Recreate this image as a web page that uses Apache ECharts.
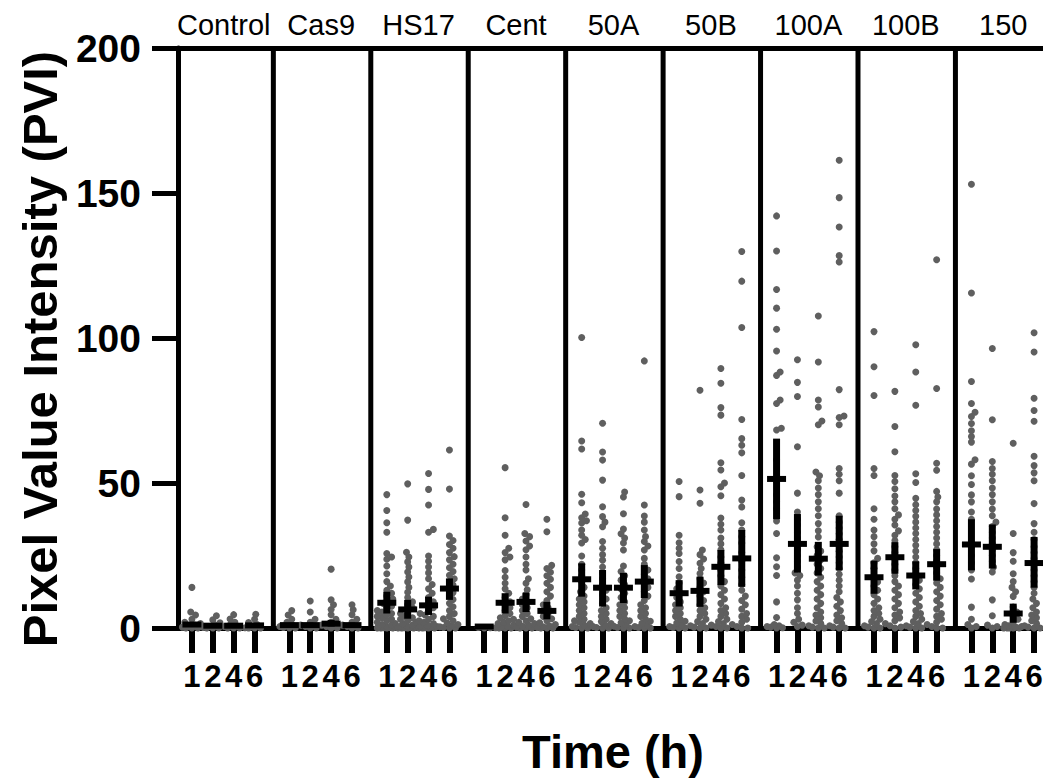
<!DOCTYPE html>
<html><head><meta charset="utf-8">
<script src="https://cdn.jsdelivr.net/npm/echarts@6/dist/echarts.min.js"></script>
<style>html,body{margin:0;padding:0;background:#fff}#c{width:1043px;height:779px}</style>
</head><body><div id="c"></div>
<script>
// ---------------- DATA ----------------
const panels = ['Control','Cas9','HS17','Cent','50A','50B','100A','100B','150'];
const times = ['1','2','4','6'];
const yTicks = [0, 50, 100, 150, 200];

// individual points per panel, one list per time point (1, 2, 4, 6 h)
const control = [
  [14, 5.5, 4.5, 3, 2, 1.5, 1, 0.6, 0.3, 0, 0, 0],
  [4.2, 2.8, 1.8, 1, 0.5, 0.2, 0, 0, 0],
  [4.6, 3.1, 2, 1.1, 0.5, 0, 0, 0],
  [4.7, 3, 1.9, 1.2, 0.4, 0.1, 0, 0, 0]
];
const cas9 = [
  [6, 4.5, 3, 2, 1.2, 0.5, 0.2, 0, 0],
  [9.3, 5.5, 3, 2, 1, 0.5, 0, 0],
  [20.3, 9.7, 8, 6.4, 4.6, 3, 2, 1, 0.5, 0, 0],
  [8, 6.3, 4.6, 3, 2, 1, 0.5, 0, 0]
];
const hs17 = [
  [46, 40.5, 36.3, 33, 25.7, 24.5, 23.7, 21.4, 18.7, 16, 14.5, 13, 12, 11, 10, 9, 8.5, 7.5, 7, 6, 5.5, 5, 4.5, 4, 3.5, 3, 2.5, 2, 1.5, 1.2, 1, 0.8, 0.5, 0.3, 0.2, 0.1, 0, 0, 0, 0],
  [49.7, 37.2, 26.1, 24.5, 22.8, 21, 19.3, 17.6, 15.9, 14, 12.3, 10.5, 9, 8, 7, 6, 5, 4, 3.5, 3, 2.5, 2, 1.5, 1, 0.8, 0.5, 0.3, 0.2, 0.1, 0, 0, 0, 0],
  [53.3, 47.8, 42.4, 34, 33, 24.8, 23, 21, 19, 17, 15, 13.5, 12, 10.5, 9, 8, 7, 6, 5, 4.5, 4, 3, 2.5, 2, 1.5, 1, 0.7, 0.5, 0.3, 0.1, 0, 0, 0, 0],
  [61.4, 47.9, 31.7, 30.2, 28.8, 27.5, 26, 24.6, 23.5, 22, 20.8, 19.5, 18.2, 17, 16, 14.8, 13.5, 12.2, 11, 9.8, 8.5, 7.3, 6, 5, 4, 3.2, 2.5, 1.8, 1.2, 0.8, 0.4, 0.2, 0, 0]
];
const cent = [
  [0.2, 0.1, 0],
  [55.3, 38, 32, 27.5, 26, 24.5, 23.5, 19.8, 17.5, 15.4, 13.5, 12, 10.5, 9, 8, 7, 6, 5, 4.2, 3.5, 3, 2.5, 2, 1.5, 1, 0.6, 0.3, 0.1, 0, 0, 0],
  [42.6, 32.6, 31.5, 30, 28.3, 27, 24.5, 22, 20, 17, 15.4, 13.2, 11.5, 10, 9, 8, 7, 6, 5, 4, 3.2, 2.5, 2, 1.5, 1, 0.6, 0.3, 0, 0, 0],
  [37.5, 33.2, 21.6, 20.5, 19.2, 18, 16.8, 15.4, 14, 12.5, 11, 9.5, 8, 7, 6, 5, 4, 3.2, 2.5, 1.8, 1.2, 0.8, 0.4, 0.2, 0, 0, 0]
];
const g50A = [
  [100.2, 64.5, 61.7, 46.1, 43.2, 39.3, 38, 37, 36.2, 33.8, 32, 30.5, 29.3, 24.8, 22, 20, 18, 16, 14, 12.5, 11, 10, 9, 8, 7, 6, 5, 4, 3, 2.5, 2, 1.5, 1, 0.5, 0.2, 0, 0],
  [70.6, 60.7, 57.9, 51, 41.8, 38.4, 36.5, 34.9, 29.8, 27.5, 25.3, 23.4, 21, 19, 17, 15, 13, 11.5, 10, 8.5, 7, 6, 5, 4, 3, 2.2, 1.5, 1, 0.5, 0.2, 0, 0],
  [46.9, 45.2, 39.4, 34.1, 32.5, 31, 29.3, 26.9, 21.4, 19.5, 18, 16.5, 15, 13.5, 12, 10.5, 9, 8, 7, 6, 5, 4, 3.2, 2.5, 1.8, 1.2, 0.6, 0.2, 0, 0],
  [92.1, 42.4, 38.6, 36.5, 33.8, 31.5, 29.8, 28.3, 26.9, 24, 22, 20, 18.5, 17, 15.5, 14, 12.5, 11, 9.5, 8, 7, 6, 5, 4, 3, 2.3, 1.6, 1, 0.5, 0.2, 0, 0]
];
const g50B = [
  [50.5, 45.3, 32, 29.4, 27.5, 25.7, 22.9, 20.5, 17.7, 15.5, 13.5, 12, 10.5, 9, 8, 7, 6, 5, 4, 3, 2.3, 1.7, 1, 0.5, 0.2, 0, 0],
  [82, 47.6, 43, 26.9, 25.3, 23.8, 22.3, 20.5, 18.8, 17, 15.5, 14, 12.5, 11, 9.5, 8, 7, 6, 5, 4, 3, 2.2, 1.5, 0.8, 0.3, 0, 0],
  [89.5, 84.4, 76, 73.4, 57, 54.5, 50, 48.7, 45.6, 37.9, 35.8, 33.8, 31, 29, 27, 24.5, 22.4, 20, 18, 16, 14.5, 13, 11.5, 10, 8.5, 7, 6, 5, 4, 3, 2.2, 1.5, 1, 0.5, 0, 0],
  [129.8, 119.6, 103.6, 71.9, 65.3, 63, 60.4, 52.6, 44.1, 41.7, 36.3, 33.8, 31.5, 29.3, 26, 23, 20, 17.5, 15, 13, 11, 9.5, 8, 6.5, 5, 4, 3, 2, 1.2, 0.5, 0, 0]
];
const g100A = [
  [142.1, 130, 116.7, 110.3, 103, 95.5, 88.3, 87.1, 78.6, 77.4, 68.9, 68.3, 58, 50.8, 45.9, 43.5, 41.1, 36.9, 32.6, 24.2, 21.1, 18.1, 9, 3.6, 1.2, 0.8, 0.5, 0.3, 0.1, 0],
  [92.5, 84.7, 79.8, 62.5, 46.5, 40, 37.5, 35.5, 33, 31, 29, 27, 25, 23, 21, 19, 18.1, 16.5, 14.5, 12, 9.7, 7, 5, 3, 2, 1, 0.5],
  [107.6, 91.7, 78.6, 76.2, 71.4, 70.1, 53.8, 52.5, 50.8, 48.3, 46, 43.5, 41.1, 38.7, 36, 33.5, 31.4, 28, 26.5, 25, 23.5, 22, 20.5, 19, 17.5, 16, 14.5, 13, 11.5, 10, 8.5, 7, 5.5, 4.5, 3.5, 2.4, 1.5, 0.8, 0.3, 0, 0],
  [161.3, 148.4, 138.3, 128.4, 126.2, 82.2, 73.1, 72.6, 70.1, 55, 53, 50.8, 46.5, 38.7, 36.5, 34.5, 32.5, 30.5, 28.5, 26.5, 24.5, 22.5, 20.5, 18.5, 16.5, 14.5, 12.5, 10.5, 9, 7.5, 6, 4.5, 3.5, 2.5, 1.5, 0.8, 0.3, 0, 0]
];
const g100B = [
  [102.2, 90.1, 80.2, 55, 52.6, 41.1, 37.5, 33.8, 31.5, 29, 26.6, 24, 22.5, 20.6, 17.5, 15.9, 14.5, 13, 11.5, 10, 8.5, 7, 6, 5, 4, 3, 2.2, 1.5, 0.8, 0.3, 0, 0],
  [81.6, 69.5, 60.8, 52.6, 50.5, 48, 45.5, 43.5, 41.1, 39, 37.5, 35.5, 33.5, 32, 30.2, 28, 26, 24, 22, 20, 18, 16, 14.5, 13, 11.5, 10, 8.5, 7, 5.5, 4.5, 3.5, 2.5, 1.5, 0.8, 0.3, 0],
  [97.7, 88.3, 76.8, 53.2, 50.2, 44.7, 42.5, 40.5, 38.5, 36.5, 34.5, 32.6, 30.5, 28.5, 26.5, 24.5, 22.5, 20.5, 18.5, 16.5, 15, 13.5, 12, 10.5, 9, 7.5, 6, 5, 4, 3, 2.2, 1.5, 0.8, 0.3, 0, 0],
  [127, 82.6, 56.8, 54.4, 47.1, 45.2, 43.5, 41, 39, 37, 35, 33, 31, 29, 27, 25, 23, 21, 19, 17, 15.5, 14, 12.5, 11, 9.5, 8, 6.5, 5, 4, 3, 2, 1.2, 0.5, 0, 0]
];
const g150 = [
  [153, 115.5, 85, 77.4, 74.4, 72.9, 70.5, 68, 66, 64.1, 58, 56.5, 52.5, 49.5, 45.9, 43.5, 40, 37.5, 28, 25, 22.5, 20, 16.9, 7.2, 3, 1.2, 0.5, 0],
  [96.4, 71.8, 57.4, 55, 53, 50.8, 48.3, 46, 43.5, 41, 38.7, 36.5, 35, 33, 31, 29, 27, 25, 23, 21, 19.3, 9.7, 4.2, 1, 0.5, 0],
  [63.7, 32.6, 26, 23, 18.7, 16, 14, 12.5, 10.9, 7.2, 5.5, 4, 3, 2, 1.2, 0.8, 0.5, 0.3, 0, 0, 0, 0, 0],
  [101.8, 95.2, 79.2, 75, 71.3, 59.2, 56, 53.5, 50.8, 42.9, 36, 33, 30.5, 28, 26, 24, 22, 20, 18, 16, 14, 12, 10, 8.5, 7, 5.5, 4.5, 3.5, 2.5, 1.5, 0.8, 0.3, 0, 0]
];
const panelPoints = [control, cas9, hs17, cent, g50A, g50B, g100A, g100B, g150];

// mean and error-bar ends per panel (1, 2, 4, 6 h)
const means = [
  [1.2, 0.8, 0.8, 0.9], [1, 1, 1.5, 1], [8.7, 6.4, 7.8, 13.6], [0.5, 8.7, 9, 5.9],
  [16.8, 13.9, 13.9, 16], [12, 12.8, 21.1, 24], [51.4, 29, 23.9, 29],
  [17.5, 24.4, 18.1, 22], [28.8, 28, 5, 22.4]
];
const errLow = [
  [0.4, 0.3, 0.3, 0.3], [0.4, 0.3, 0.5, 0.3], [5, 3.2, 4.5, 9.7], [0.3, 5, 5.5, 3],
  [10.8, 7.4, 8.6, 10.3], [7.4, 7.3, 14.8, 14.2], [37.5, 19.1, 18.1, 19.9],
  [11.8, 18.7, 13.3, 16.3], [19.9, 20.5, 1.8, 13.9]
];
const errHigh = [
  [2, 1.3, 1.3, 1.5], [1.6, 1.8, 2.8, 1.8], [12.5, 9.7, 10.8, 17.1], [0.7, 12, 12.2, 9],
  [22.3, 20, 19, 21.7], [16.5, 17.7, 26.9, 33.8], [65.3, 39.3, 29.7, 38.7],
  [23.2, 29.6, 23, 27.2], [37.5, 35.7, 8.4, 31.4]
];

// ---------------- LAYOUT ----------------
const FONT = '"Liberation Sans", Arial, Helvetica, sans-serif';
const GRID = {left: 178, top: 48, width: 870, height: 580};
const SLOTS = 125;                // x-axis slot count (value 0..125)
const PANEL_SLOTS = 14;           // slots per panel
const COL0 = 2, COL_STEP = 3;     // column positions within panel
const SEP_SHIFT = -0.3;
const pxPerSlot = GRID.width / SLOTS;
const pxPerUnit = GRID.height / 200;

const colSlot = (g, j) => g * PANEL_SLOTS + COL0 + j * COL_STEP;

// category labels for the bottom (time) and top (panel) axes
const slotNames = [], timeLabels = [], titleLabels = [];
for (let i = 0; i <= SLOTS; i++) { slotNames.push('s' + i); timeLabels.push(''); titleLabels.push(''); }
panels.forEach((p, g) => {
  times.forEach((t, j) => { timeLabels[colSlot(g, j)] = t; });
  titleLabels[g * PANEL_SLOTS + 7] = p;
});

// simple beeswarm (computed layout, pixels -> slot units)
function swarm(vals) {
  const D = 5, MAXX = 9.5, STEP = 1.2;
  const placed = [], out = [];
  const sorted = vals.slice().sort((a, b) => a - b);
  sorted.forEach(v => {
    const y = v * pxPerUnit;
    const near = placed.filter(p => Math.abs(p.y - y) < D);
    let best = null;
    for (let k = 0; k * STEP <= MAXX && best === null; k++) {
      const cands = k === 0 ? [0] : [k * STEP, -k * STEP];
      for (const x of cands) {
        if (near.every(p => (p.x - x) ** 2 + (p.y - y) ** 2 >= D * D)) { best = x; break; }
      }
    }
    if (best === null) {
      let bestScore = -1;
      for (let x = -MAXX; x <= MAXX + 1e-6; x += STEP) {
        let m = Infinity;
        near.forEach(p => { m = Math.min(m, (p.x - x) ** 2 + (p.y - y) ** 2); });
        if (m > bestScore) { bestScore = m; best = x; }
      }
    }
    placed.push({x: best, y});
    out.push([best / pxPerSlot, v]);
  });
  return out;
}

const scatterData = [], meanData = [], sepData = [];
panelPoints.forEach((cols, g) => {
  cols.forEach((vals, j) => {
    const cx = colSlot(g, j);
    swarm(vals).forEach(([dx, v]) => scatterData.push([cx + dx, v]));
    meanData.push([cx, means[g][j], errLow[g][j], errHigh[g][j]]);
  });
  if (g > 0) sepData.push([g * PANEL_SLOTS + SEP_SHIFT, 0, 200]);
});

const chart = echarts.init(document.getElementById('c'), null, {renderer: 'svg'});
chart.setOption({
  animation: false,
  backgroundColor: '#fff',
  grid: Object.assign({outerBoundsMode: 'none', containLabel: false}, GRID),
  xAxis: [
    {type: 'value', min: 0, max: SLOTS, show: false, position: 'bottom'},
    {
      type: 'category', data: slotNames, boundaryGap: false, position: 'bottom',
      axisLine: {show: true, onZero: false, lineStyle: {color: '#000', width: 5}},
      axisTick: {show: true, length: 25, interval: (i) => timeLabels[i] !== '', lineStyle: {color: '#000', width: 6}},
      axisLabel: {show: true, interval: (i) => timeLabels[i] !== '', formatter: (v, i) => timeLabels[i],
        margin: 33, color: '#000', fontFamily: FONT, fontWeight: 'bold', fontSize: 31},
      splitLine: {show: false},
      name: 'Time (h)', nameLocation: 'middle', nameGap: 100, nameMoveOverlap: false,
      nameTextStyle: {color: '#000', fontFamily: FONT, fontWeight: 'bold', fontSize: 47}
    },
    {
      type: 'category', data: slotNames, boundaryGap: false, position: 'top',
      axisLine: {show: true, onZero: false, lineStyle: {color: '#000', width: 5}},
      axisTick: {show: false},
      axisLabel: {show: true, interval: (i) => titleLabels[i] !== '', formatter: (v, i) => titleLabels[i],
        margin: 9, padding: [0, 6, 0, 0], color: '#000', fontFamily: FONT, fontSize: 29},
      splitLine: {show: false}
    }
  ],
  yAxis: {
    type: 'value', min: yTicks[0], max: yTicks[yTicks.length - 1], interval: 50,
    axisLine: {show: true, lineStyle: {color: '#000', width: 5}},
    axisTick: {show: true, length: 26, lineStyle: {color: '#000', width: 5}},
    axisLabel: {margin: 37, color: '#000', fontFamily: FONT, fontWeight: 'bold', fontSize: 39},
    splitLine: {show: false},
    name: 'Pixel Value Intensity (PVI)', nameLocation: 'middle', nameGap: 114, nameMoveOverlap: false,
    nameTextStyle: {color: '#000', fontFamily: FONT, fontWeight: 'bold', fontSize: 49, padding: [0, 22, 0, 0]}
  },
  series: [
    {
      type: 'scatter', xAxisIndex: 0, data: scatterData, symbol: 'circle', symbolSize: 7,
      itemStyle: {color: '#5f5f5f', opacity: 1}, z: 2, silent: true
    },
    {
      type: 'custom', xAxisIndex: 0, data: meanData, encode: {x: 0, y: [1, 2, 3]}, z: 3, silent: true,
      renderItem: (params, api) => {
        const x = api.value(0);
        const m = api.coord([x, api.value(1)]);
        const lo = api.coord([x, api.value(2)]);
        const hi = api.coord([x, api.value(3)]);
        return {type: 'group', children: [
          {type: 'rect', shape: {x: m[0] - 3.5, y: hi[1], width: 7, height: Math.max(lo[1] - hi[1], 1)}, style: {fill: '#000'}},
          {type: 'rect', shape: {x: m[0] - 9.5, y: m[1] - 3, width: 19, height: 6}, style: {fill: '#000'}}
        ]};
      }
    },
    {
      type: 'custom', xAxisIndex: 0, data: sepData, encode: {x: 0, y: [1, 2]}, z: 4, silent: true,
      renderItem: (params, api) => {
        const x = api.value(0);
        const b = api.coord([x, api.value(1)]);
        const t = api.coord([x, api.value(2)]);
        return {type: 'rect', shape: {x: b[0] - 2.5, y: t[1], width: 5, height: b[1] - t[1]}, style: {fill: '#000'}};
      }
    }
  ]
});
</script></body></html>
